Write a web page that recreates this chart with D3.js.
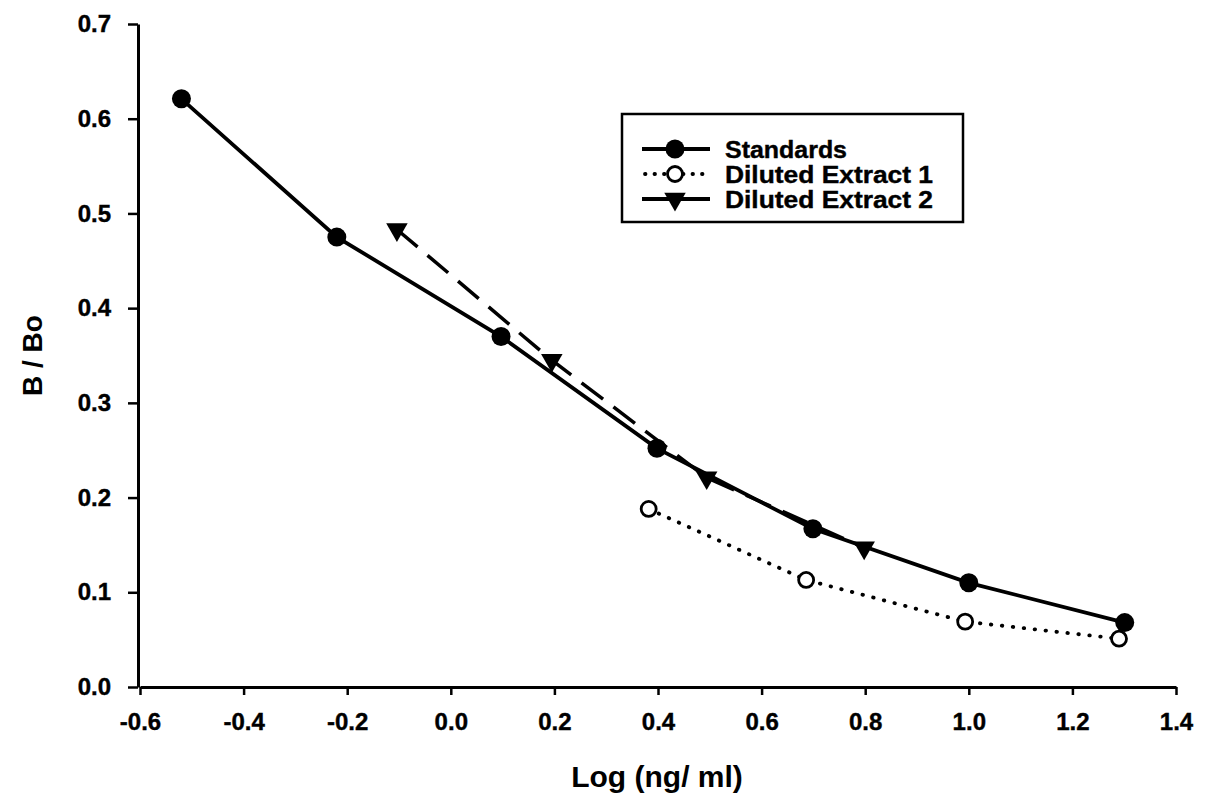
<!DOCTYPE html>
<meta charset="utf-8">
<style>
body { margin: 0; background: #fff; }
text { font-family: "Liberation Sans", Arial, sans-serif; font-weight: bold; fill: #000; }
.tick text { font-size: 24px; font-family: "Liberation Sans", Arial, sans-serif; font-weight: bold; stroke: #000; stroke-width: 0.4px; }
</style>
<svg width="1205" height="803"></svg>
<script src="https://cdn.jsdelivr.net/npm/d3@7"></script>
<script>

// data
var stdX = [-0.52, -0.22, 0.097, 0.398, 0.699, 1.0, 1.301];
var stdY = [0.621, 0.475, 0.370, 0.252, 0.167, 0.110, 0.068];

var ext1X = [0.382, 0.686, 0.993, 1.29];
var ext1Y = [0.188, 0.113, 0.069, 0.051];

var ext2X = [-0.104, 0.195, 0.494, 0.798];
var ext2Y = [0.483, 0.345, 0.221, 0.147];

var xTicks = [-0.6, -0.4, -0.2, 0.0, 0.2, 0.4, 0.6, 0.8, 1.0, 1.2, 1.4];
var yTicks = [0.0, 0.1, 0.2, 0.3, 0.4, 0.5, 0.6, 0.7];

var seriesNames = ["Standards", "Diluted Extract 1", "Diluted Extract 2"];

var svg = d3.select("svg");

var x = d3.scaleLinear().domain([-0.6, 1.4]).range([140, 1176]);
var y = d3.scaleLinear().domain([0, 0.7]).range([687, 24]);

// plain hyphen for negatives, like the original
var fmt = function(d) { return d3.format(".1f")(d).replace("\u2212", "-"); };

// axes
var xAxis = d3.axisBottom(x).tickValues(xTicks).tickFormat(fmt).tickSize(8).tickSizeOuter(0);
var yAxis = d3.axisLeft(y).tickValues(yTicks).tickFormat(fmt).tickSize(10).tickSizeOuter(0);

var gx = svg.append("g").attr("transform", "translate(0," + y(0) + ")").call(xAxis);
gx.select(".domain").attr("stroke-width", 3);
gx.selectAll(".tick line").attr("stroke-width", 2.5);
gx.selectAll(".tick text").attr("y", 26);

var gy = svg.append("g").attr("transform", "translate(" + (x(-0.6) - 2) + ",0)").call(yAxis);
gy.select(".domain").attr("stroke-width", 3);
gy.selectAll(".tick line").attr("stroke-width", 2.5);
gy.selectAll(".tick text").attr("x", -27);

// axis titles
svg.append("text")
    .attr("x", 657).attr("y", 787)
    .attr("text-anchor", "middle")
    .style("font-size", "30px")
    .text("Log (ng/ ml)");

svg.append("text")
    .attr("transform", "translate(42," + y(0.35) + ") rotate(-90)")
    .attr("text-anchor", "middle")
    .style("font-size", "28px")
    .text("B / Bo");

var line = d3.line().x(function(d) { return x(d[0]); }).y(function(d) { return y(d[1]); });

var std = d3.zip(stdX, stdY);
var ext1 = d3.zip(ext1X, ext1Y);
var ext2 = d3.zip(ext2X, ext2Y);

var tri = d3.symbol().type(d3.symbolTriangle).size(200);

// extract 2 - dashed
svg.append("path").datum(ext2).attr("d", line)
    .attr("fill", "none").attr("stroke", "#000").attr("stroke-width", 3.5)
    .attr("stroke-dasharray", "27,13");

// extract 1 - dotted
svg.append("path").datum(ext1).attr("d", line)
    .attr("fill", "none").attr("stroke", "#000").attr("stroke-width", 3.8)
    .attr("stroke-linecap", "round")
    .attr("stroke-dasharray", "0.5,10.5");

// standards - solid
svg.append("path").datum(std).attr("d", line)
    .attr("fill", "none").attr("stroke", "#000").attr("stroke-width", 3.8);

svg.selectAll(".std").data(std).enter().append("circle")
    .attr("cx", function(d) { return x(d[0]); })
    .attr("cy", function(d) { return y(d[1]); })
    .attr("r", 9.5).attr("fill", "#000");

svg.selectAll(".e1").data(ext1).enter().append("circle")
    .attr("cx", function(d) { return x(d[0]); })
    .attr("cy", function(d) { return y(d[1]); })
    .attr("r", 7.5).attr("fill", "#fff").attr("stroke", "#000").attr("stroke-width", 2.8);

svg.selectAll(".e2").data(ext2).enter().append("path")
    .attr("d", tri)
    .attr("transform", function(d) { return "translate(" + x(d[0]) + "," + y(d[1]) + ") rotate(180)"; })
    .attr("fill", "#000");

// legend
var lg = svg.append("g").attr("transform", "translate(622,114)");
lg.append("rect").attr("width", 341).attr("height", 108)
    .attr("fill", "#fff").attr("stroke", "#000").attr("stroke-width", 2.5);

var rows = [35, 60, 85];
var textLen = [122, 208, 208];
seriesNames.forEach(function(name, i) {
  var r = lg.append("g").attr("transform", "translate(0," + rows[i] + ")");
  var ln = r.append("line").attr("x1", 20).attr("x2", 88).attr("stroke", "#000").attr("stroke-width", 3.8);
  if (i == 1) ln.attr("stroke-dasharray", "0.5,9").attr("stroke-linecap", "round").attr("x1", 23);
  if (i == 0) r.append("circle").attr("cx", 53).attr("r", 9.5).attr("fill", "#000");
  if (i == 1) r.append("circle").attr("cx", 53).attr("r", 7.5).attr("fill", "#fff").attr("stroke", "#000").attr("stroke-width", 2.8);
  if (i == 2) r.append("path").attr("d", tri).attr("transform", "translate(53,0) rotate(180)").attr("fill", "#000");
  r.append("text").attr("x", 103).attr("dy", "0.36em")
    .style("font-size", "24px")
    .style("stroke", "#000").style("stroke-width", 0.4)
    .attr("textLength", textLen[i]).attr("lengthAdjust", "spacingAndGlyphs")
    .text(name);
});

</script>
